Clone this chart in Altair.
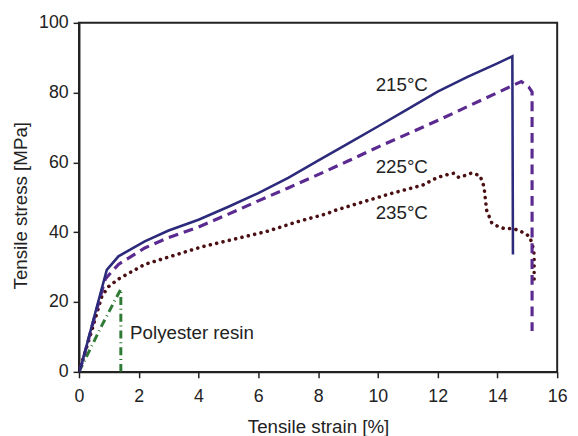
import altair as alt
import pandas as pd

# 215 °C (solid)
s215_x = [0, 0.1, 0.5, 0.93, 1.32, 2.2, 3.0, 4.0, 5.0, 6.0, 7.0, 8.0, 9.0, 10.0, 11.0, 12.0, 13.0, 14.0, 14.5, 14.52]
s215_y = [0, 2.5, 15.5, 29.2, 33.1, 37.4, 40.5, 43.6, 47.3, 51.2, 55.6, 60.5, 65.4, 70.3, 75.3, 80.3, 84.5, 88.4, 90.4, 33.6]

# 225 °C (dashed)
s225_x = [0, 0.1, 0.5, 0.88, 1.32, 2.2, 3.0, 4.0, 5.0, 6.0, 7.0, 8.0, 9.0, 10.0, 11.0, 12.0, 13.0, 14.0, 14.8, 15.05, 15.16, 15.16]
s225_y = [0, 2.5, 15.0, 26.6, 30.8, 35.5, 38.5, 41.5, 45.2, 49.0, 52.7, 56.5, 60.4, 64.4, 68.2, 72.0, 76.0, 80.0, 83.2, 81.6, 80.2, 11.7]

# 235 °C (dotted)
s235_x = [0, 0.4, 0.77, 1.0, 1.32, 2.2, 4.1, 6.27, 7.3, 8.25, 8.58, 10.4, 11.5, 11.99, 12.32, 12.54, 12.71, 12.93, 13.15,
          13.42, 13.55, 13.64, 13.81, 14.03, 14.25, 14.52, 14.74, 14.96, 15.09, 15.18, 15.23, 15.23]
s235_y = [0, 11.0, 21.8, 24.5, 26.6, 30.8, 35.8, 40.2, 43.0, 45.2, 46.3, 51.0, 53.5, 55.7, 56.5, 56.9, 55.7, 56.3, 57.0,
          56.2, 53.1, 46.3, 42.7, 41.6, 41.0, 41.1, 40.4, 39.5, 38.6, 36.0, 33.6, 26.1]

# Polyester resin (dash-dot)
resin_x = [0, 0.77, 1.4, 1.4]
resin_y = [0, 13.4, 23.7, 0]

labels_text = ["215°C", "225°C", "235°C"]
labels_x = [10.8, 10.8, 10.8]
labels_y = [82.1, 58.8, 45.6]

resin_label = ["Polyester resin"]
resin_label_x = [1.71]
resin_label_y = [11.0]

FONT = "Liberation Sans"

x_scale = alt.Scale(domain=[0, 16], nice=False)
y_scale = alt.Scale(domain=[0, 100], nice=False)

x_vals = [i * 0.5 for i in range(33)]
y_vals = [i * 5 for i in range(21)]

x_axis = alt.Axis(
    title="Tensile strain [%]",
    values=x_vals,
    labelExpr="datum.value % 2 === 0 ? datum.label : ''",
    tickSize={"condition": {"test": "datum.value % 2 === 0", "value": 6}, "value": 3},
    labelOverlap=False,
    labelFlush=False,
    grid=False,
    labelPadding=10,
    titlePadding=12,
    titleFontSize=19,
)
y_axis = alt.Axis(
    title="Tensile stress [MPa]",
    values=y_vals,
    labelExpr="datum.value % 20 === 0 ? datum.label : ''",
    tickSize={"condition": {"test": "datum.value % 20 === 0", "value": 6}, "value": 4},
    labelOverlap=False,
    labelFlush=False,
    grid=False,
    labelPadding=5,
    titlePadding=8,
    titleFontSize=19,
    titleY=185,
)


def series(xs, ys):
    return pd.DataFrame({"x": xs, "y": ys, "i": list(range(len(xs)))})


def line(df, color, dash, width, cap="butt"):
    props = dict(color=color, strokeWidth=width, strokeCap=cap, clip=True)
    if dash:
        props["strokeDash"] = dash
    return alt.Chart(df).mark_line(**props).encode(
        x=alt.X("x:Q", scale=x_scale, axis=x_axis),
        y=alt.Y("y:Q", scale=y_scale, axis=y_axis),
        order="i:Q",
    )


l215 = line(series(s215_x, s215_y), "#2c2a7a", None, 2.6)
l225 = line(series(s225_x, s225_y), "#5b2a90", [10, 6], 3.2)
l235 = line(series(s235_x, s235_y), "#4a0f12", [0.1, 6.5], 3.6, cap="round")
lres = line(series(resin_x, resin_y), "#2f7a34", [8, 4, 1, 4], 3.0)

lab_df = pd.DataFrame({"x": labels_x, "y": labels_y, "t": labels_text})
labs = alt.Chart(lab_df).mark_text(font=FONT, fontSize=19, color="#222222", align="center", baseline="middle").encode(
    x=alt.X("x:Q", scale=x_scale), y=alt.Y("y:Q", scale=y_scale), text="t:N"
)
rl_df = pd.DataFrame({"x": resin_label_x, "y": resin_label_y, "t": resin_label})
rlab = alt.Chart(rl_df).mark_text(font=FONT, fontSize=19, color="#222222", align="left", baseline="middle").encode(
    x=alt.X("x:Q", scale=x_scale), y=alt.Y("y:Q", scale=y_scale), text="t:N"
)

chart = alt.layer(lres, l235, l225, l215, labs, rlab).properties(
    width=485,
    height=354,
    background="white",
    autosize=alt.AutoSizeParams(type="none"),
    padding={"left": 72, "top": 12, "right": 13, "bottom": 62},
).configure_view(
    stroke="#222222", strokeWidth=2
).configure_axis(
    domainColor="#222222", domainWidth=2, tickColor="#222222", tickWidth=1.5,
    labelFont=FONT, labelFontSize=18, labelColor="#222222",
    titleFont=FONT, titleColor="#222222", titleFontWeight="normal",
)

chart.save("out.html", embed_options={"renderer": "svg", "actions": False})
